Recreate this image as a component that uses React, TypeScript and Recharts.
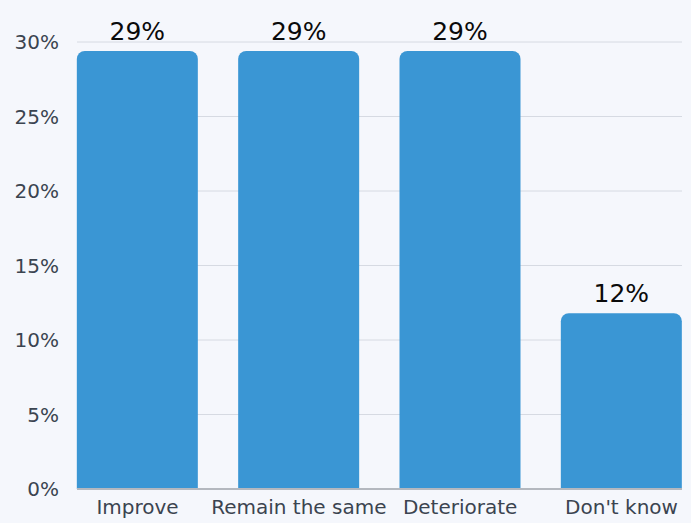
import React from "react";
import {
  BarChart,
  Bar,
  XAxis,
  YAxis,
  CartesianGrid,
  LabelList,
} from "recharts";

/* ────────────────────────────────────────── */
/*  Data                                      */
/* ────────────────────────────────────────── */

const categories = ["Improve", "Remain the same", "Deteriorate", "Don't know"];
const shares = [29.4, 29.4, 29.4, 11.8];
const valueLabels = ["29%", "29%", "29%", "12%"];
const yTicks = [0, 5, 10, 15, 20, 25, 30];

const data = categories.map((name, i) => ({
  idx: i,
  name,
  value: shares[i],
  label: valueLabels[i],
}));

const FONT = "'DejaVu Sans', 'Noto Sans', sans-serif";

export default function App() {
  return (
    <div
      style={{
        position: "fixed",
        left: 0,
        top: 0,
        width: 691,
        height: 523,
        background: "#f5f7fc",
        fontFamily: FONT,
      }}
    >
      <BarChart
        width={691}
        height={523}
        data={data}
        margin={{ top: 42, right: 9, bottom: 4, left: 0 }}
        barSize={121}
      >
        <CartesianGrid vertical={false} stroke="#d6dae2" />
        <XAxis
          dataKey="idx"
          type="number"
          domain={[-0.375, 3.375]}
          ticks={[0, 1, 2, 3]}
          tickFormatter={(v) => categories[v] ?? ""}
          tickLine={false}
          axisLine={{ stroke: "#b4b8bf", strokeWidth: 2 }}
          tick={{ fill: "#3b4450", fontSize: 20, fontFamily: FONT }}
          tickMargin={5}
          height={30}
          interval={0}
        />
        <YAxis
          domain={[0, 30]}
          ticks={yTicks}
          tickFormatter={(v) => `${v}%`}
          tickLine={false}
          axisLine={false}
          tick={{ fill: "#3b4450", fontSize: 20, fontFamily: FONT }}
          tickMargin={12}
          width={77}
        />
        <Bar
          dataKey="value"
          fill="#3a96d4"
          radius={[8, 8, 0, 0]}
          isAnimationActive={false}
        >
          <LabelList
            dataKey="label"
            position="top"
            offset={11}
            fill="#0a0a0a"
            fontSize={25}
            fontFamily={FONT}
          />
        </Bar>
      </BarChart>
    </div>
  );
}
